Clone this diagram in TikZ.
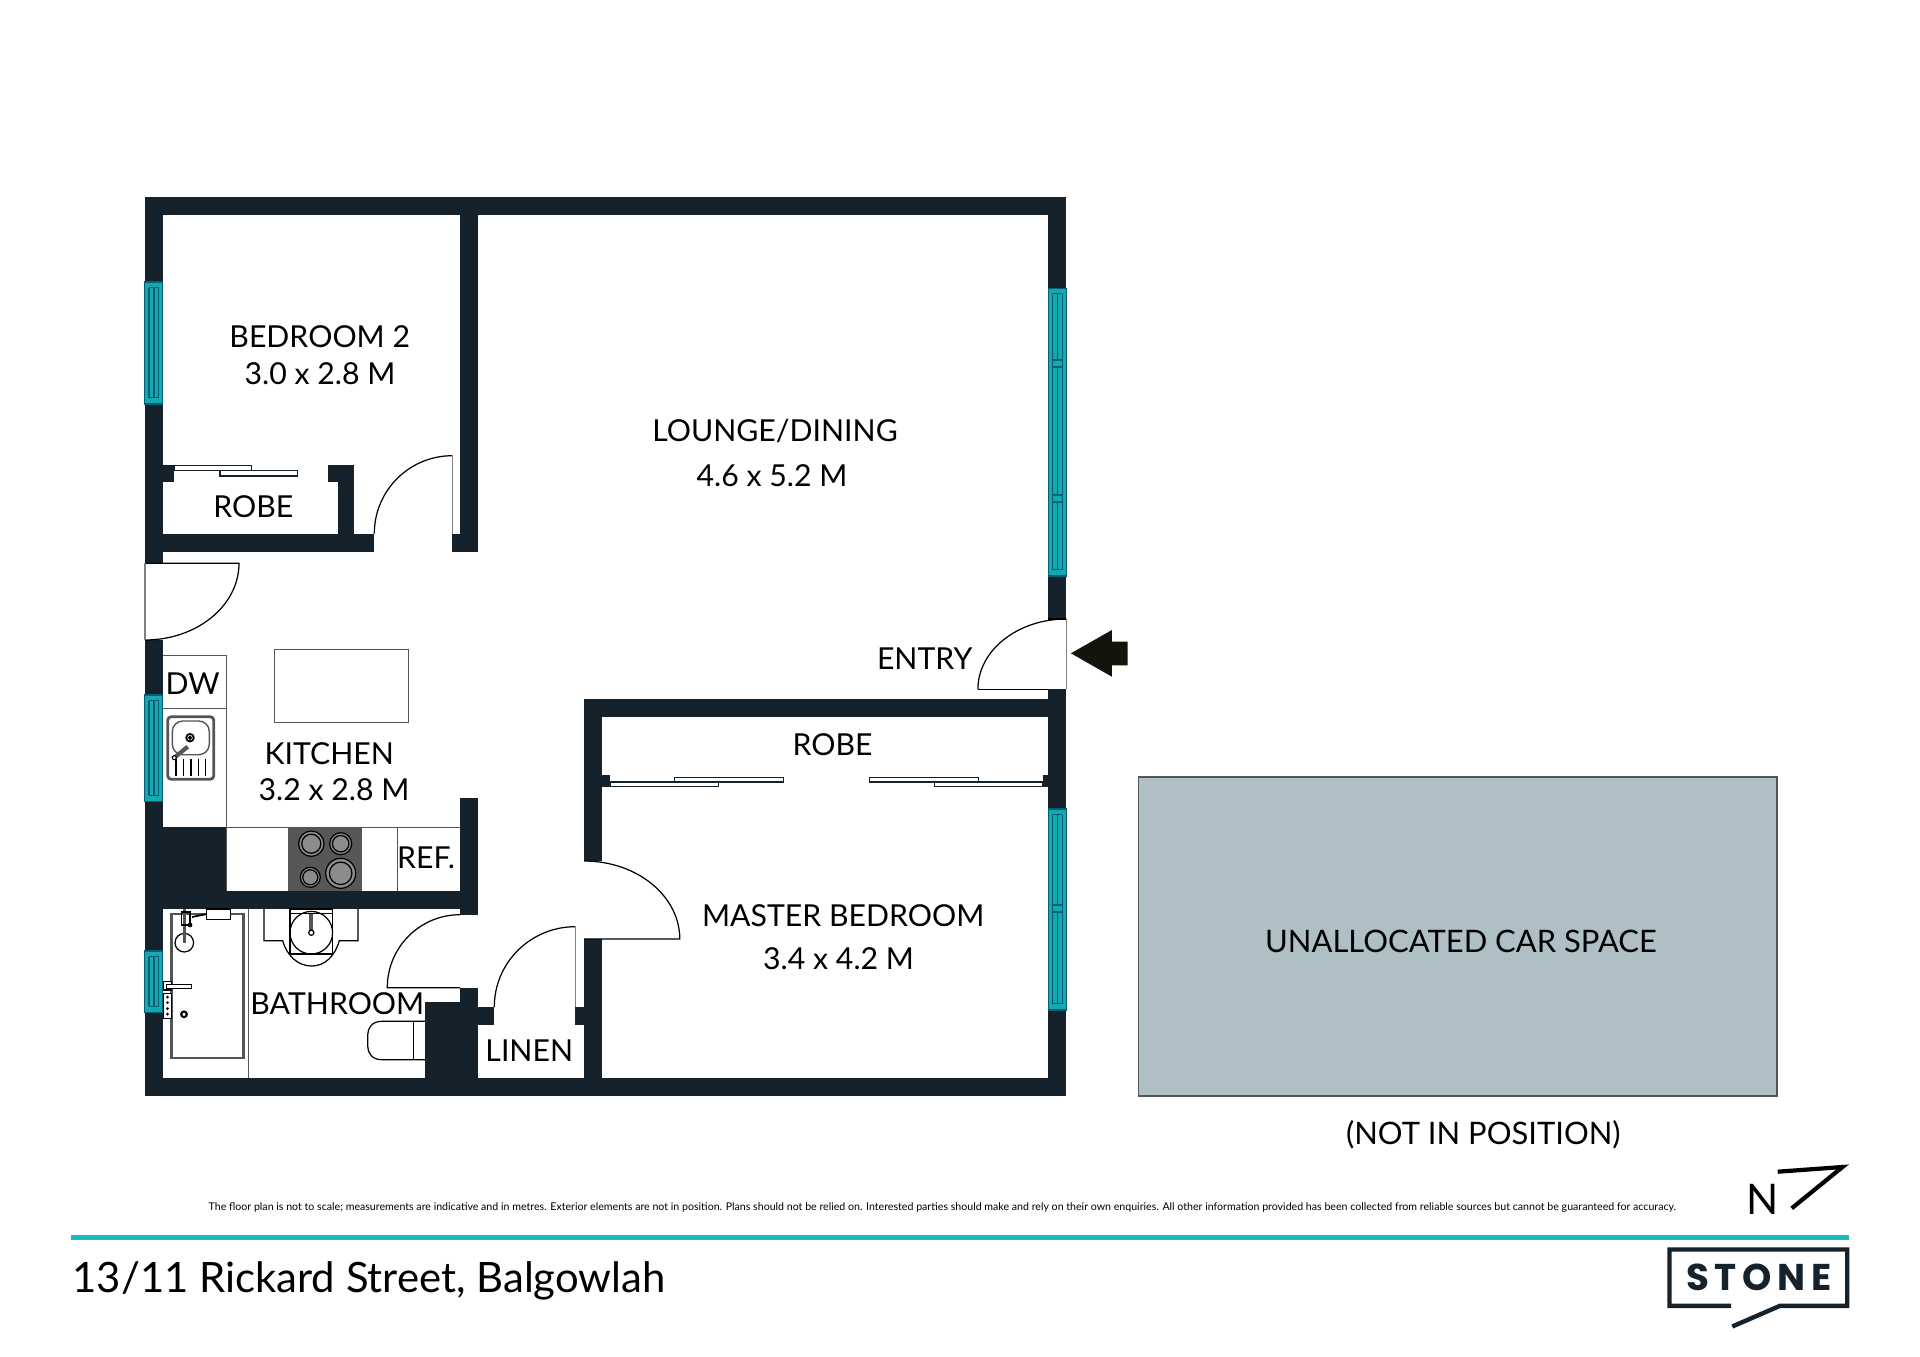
\documentclass[tikz,border=0pt]{standalone}
\usepackage{fontspec}
\setmainfont{Lato}
\newfontfamily\logofont[LetterSpace=15.6]{Poppins}
\definecolor{walldark}{HTML}{15222B}
\definecolor{glassteal}{HTML}{12A9B3}
\definecolor{glassline}{HTML}{0C5D70}
\definecolor{ruleteal}{HTML}{1ABBC0}
\definecolor{carfill}{HTML}{AEBFC6}
\definecolor{fixline}{HTML}{555555}
\definecolor{hobgrey}{HTML}{575757}
\definecolor{ringgrey}{HTML}{8C8C8C}
\definecolor{arrowdark}{HTML}{15140C}
\tikzset{
  wall/.style={fill=walldark},
  fixture/.style={draw=fixline, line width=0.4pt},
  doorline/.style={draw=black, line width=0.35pt},
  doorjamb/.style={draw=gray, line width=0.45pt},
  slider/.style={draw=walldark, fill=white, line width=0.35pt},
  roomlabel/.style={font=\fontsize{8.6}{10}\selectfont, text=black, inner sep=0pt},
  carlabel/.style={font=\fontsize{8.8}{10}\selectfont, text=black, inner sep=0pt},
  ring/.style={draw=black, fill=ringgrey, line width=0.35pt},
}

\begin{document}
\begin{tikzpicture}[x=0.01cm,y=-0.01cm]
  \useasboundingbox (0,0) rectangle (1920,1357);
  \fill[white] (0,0) rectangle (1920,1357);

  % --------------------
  % Walls
  % --------------------
  \foreach \xa/\ya/\xb/\yb in {144.7/197.3/1066.3/215.3, 144.7/197.3/162.7/563.3, 144.7/640/162.7/1096,
    144.7/1078.3/1066.3/1096, 1048.3/197.3/1066.3/619, 1048.3/689.3/1066.3/1096,
    460/197.3/477.7/551.7, 144.7/533.7/374.3/551.7, 452.3/533.7/477.7/551.7,
    338/464.7/354.3/533.7, 328.3/464.7/338/481.7, 162.7/464.7/174.3/481.7,
    460/798/477.7/915, 144.7/891/477.7/909.3, 144.7/827.3/226.3/891,
    460/987.7/477.7/1078.3, 425.3/1001.7/477.7/1078.3,
    477.7/1007/494.3/1025, 575.3/1007/584.3/1025,
    584.1/699/601.7/861, 584.1/938.5/601.7/1096, 584.1/699/1066.3/717.3,
    601.7/775/610/786.7, 1043/775/1048.3/786.7} {
    \fill[wall] (\xa,\ya) rectangle (\xb,\yb);
  }

  % --------------------
  % Windows
  % --------------------
  \foreach \wx/\wa/\wb in {144.7/282/404, 144.7/695/801.7, 144.7/951/1012.7, 1048.3/288.3/576, 1048.3/809/1010} {
    \fill[glassteal] (\wx,\wa) rectangle +(18,\wb-\wa);
    \draw[glassline, line width=0.35pt] (\wx,\wa) rectangle +(18,\wb-\wa);
    \draw[glassline, line width=0.35pt] (\wx+4.4,\wa+5.5) -- (\wx+4.4,\wb-6.5);
    \draw[glassline, line width=0.35pt] (\wx+9.2,\wa+5.5) -- (\wx+9.2,\wb-6.5);
    \draw[glassline, line width=0.35pt] (\wx+14,\wa+5.5) -- (\wx+14,\wb-6.5);
    \draw[glassline, line width=0.35pt] (\wx+4.4,\wa+5.5) -- (\wx+14,\wa+5.5);
    \draw[glassline, line width=0.35pt] (\wx+4.4,\wb-6.5) -- (\wx+14,\wb-6.5);
  }
  % window mullions
  \foreach \wx/\wy in {1048.3/360, 1048.3/495, 1048.3/905} {
    \fill[glassteal] (\wx+4.4,\wy) rectangle +(9.6,7);
    \draw[glassline, line width=0.35pt] (\wx+4.4,\wy) rectangle +(9.6,7);
  }

  % --------------------
  % Doors
  % --------------------
  % Bedroom 2
  \draw[doorline] (374.3,533.7) arc (180:270:78);
  \draw[doorjamb] (452.3,455.7) -- (452.3,533.7);
  % Side door
  \draw[doorline] (145,563.3) -- (239,563.3) arc (0:90:94 and 76.7);
  \draw[doorjamb] (145,563.3) -- (145,640);
  % Entry
  \draw[doorline] (1048.3,619) -- (1066.3,619);
  \draw[doorline] (977.9,689.3) -- (1048.3,689.3);
  \draw[doorline] (977.9,689.3) arc (180:270:88.4 and 70.3);
  \draw[doorjamb] (1066.3,619) -- (1066.3,689.3);
  % Master bedroom
  \draw[doorline] (584.1,939) -- (679.8,939) arc (0:-90:95.7 and 78);
  % Bathroom
  \draw[doorline] (460,987.7) -- (387.3,987.7) arc (180:270:72.7 and 73);
  % Linen
  \draw[doorline] (494.3,1007) arc (180:270:81 and 80.3);
  \draw[doorjamb] (575.3,926.7) -- (575.3,1007);

  % --------------------
  % Sliding robe doors
  % --------------------
  \draw[slider] (174.3,465.3) rectangle (251.7,470.7);
  \draw[slider] (220,470.7) rectangle (297.7,476);
  \draw[slider] (610,782) rectangle (718.4,786.3);
  \draw[slider] (674.8,777.7) rectangle (783.5,782);
  \draw[slider] (869.6,777.7) rectangle (978.3,782);
  \draw[slider] (934.7,782) rectangle (1043,786.3);

  % --------------------
  % Kitchen
  % --------------------
  \draw[fixture] (162.7,655.3) -- (226.3,655.3) -- (226.3,891);
  \draw[fixture] (162.7,708.3) -- (226.3,708.3);
  \draw[fixture] (226.3,827.3) -- (460,827.3);
  \draw[fixture] (397.3,827.3) -- (397.3,891);
  \draw[fixture] (274.3,649.7) rectangle (408.7,722.3);

  % Hob
  \fill[hobgrey] (288,827.8) rectangle (362.3,891);
  \foreach \bx/\by/\br in {311.3/843.7/12.7, 340.7/843.7/11, 310.3/877.3/10, 340.7/873.3/15} {
    \draw[ring] (\bx,\by) circle (\br);
    \draw[ring] (\bx,\by) circle (\br*0.75);
  }

  % Sink
  \draw[fixline, fill=white, line width=0.8pt, rounded corners=1pt] (167.7,716.7) rectangle (213.7,779.3);
  \draw[fixture, rounded corners=3pt] (172.3,721) rectangle (209.3,754.7);
  \draw[black, line width=0.5pt] (190,737.7) circle (3.8);
  \draw[black, line width=0.5pt] (190,737.7) circle (1.2);
  \draw[fixline, line width=1.2pt] (174.3,757.7) -- (187.7,746.7);
  \draw[fill=white, line width=0.3pt] (174.3,757.7) circle (2);
  \foreach \gx in {176,183.7,191,198.3,205.3} {
    \draw[black, line width=0.35pt] (\gx,758.5) -- (\gx,776);
  }

  % --------------------
  % Bathroom
  % --------------------
  \draw[fixture] (248.7,909) -- (248.7,1078.3);
  \draw[fixline, line width=0.7pt] (171.7,914) rectangle (243.3,1058);

  % Shower and controls
  \draw[doorline] (184.3,942.7) circle (9.3);
  \draw[fixline, line width=0.8pt] (184.3,909) -- (184.3,942.7);
  \draw[doorline] (181.5,912) rectangle (190,925);
  \fill[black] (190,925) circle (2.4);
  \draw[black, line width=0.4pt, fill=white] (206.7,909) rectangle (230.7,919.3);
  \draw[black, line width=0.5pt] (192,917) -- (206.7,914);
  \draw[doorline, fill=white] (163.3,981.7) rectangle (171.7,990);
  \draw[doorline, fill=white] (166.7,984.3) rectangle (191.7,988.3);
  \draw[black, line width=0.4pt, fill=white] (163.3,993.3) rectangle (171.7,1018.3);
  \foreach \dy in {997,1002.5,1008.5,1014} {
    \fill[black] (167.5,\dy) circle (1.5);
  }
  \draw[black, line width=0.6pt] (184,1014.3) circle (2.8);

  % Vanity and basin
  \draw[doorline] (264,909) -- (264,940.7) -- (282.7,940.7)
    .. controls (287,956) and (298,966) .. (311.7,966)
    .. controls (325,966) and (335,956) .. (339.3,940.7) -- (358,940.7) -- (358,909);
  \draw[doorline, line width=0.45pt, fill=white] (290,909) rectangle (332.7,954);
  \draw[doorline] (290,913.3) -- (332.7,913.3);
  \draw[doorline] (311.3,932.7) circle (21.3);
  \draw[fixline, line width=1.2pt] (311.3,914) -- (311.3,931);
  \draw[doorline, fill=white] (311.3,932.7) circle (2.6);

  % Toilet
  \draw[doorline] (425.3,1021.3) -- (381.7,1021.3)
    .. controls (372,1021.3) and (367.7,1028) .. (367.7,1035)
    -- (367.7,1046) .. controls (367.7,1053) and (372,1059.7) .. (381.7,1059.7) -- (425.3,1059.7);
  \draw[doorline] (413.7,1021.3) -- (413.7,1059.7);

  % --------------------
  % Entry arrow
  % --------------------
  \fill[arrowdark] (1070.9,653.3) -- (1111.9,630) -- (1111.9,641.7) -- (1127.5,641.7)
    -- (1127.5,665.3) -- (1111.9,665.3) -- (1111.9,676.7) -- cycle;

  % --------------------
  % Car space
  % --------------------
  \draw[fill=carfill, draw=fixline, line width=0.4pt] (1138.3,777) rectangle (1777,1096);

  % --------------------
  % Room names
  % --------------------
  \node[roomlabel] (bedtwoname) at (319.7,336.7) {BEDROOM 2};
  \node[roomlabel] (bedtwosize) at (320,373.3) {3.0 x 2.8 M};
  \node[roomlabel] (bedtworobe) at (253.3,507) {ROBE};
  \node[roomlabel] (loungename) at (775,431) {LOUNGE/DINING};
  \node[roomlabel] (loungesize) at (772,476) {4.6 x 5.2 M};
  \node[roomlabel] (entryname) at (924.7,659) {ENTRY};
  \node[roomlabel] (dwname) at (192.7,683.8) {DW};
  \node[roomlabel] (kitchenname) at (329.3,753.3) {KITCHEN};
  \node[roomlabel] (kitchensize) at (334,789.3) {3.2 x 2.8 M};
  \node[roomlabel] (refname) at (426,857.7) {REF.};
  \node[roomlabel] (bathname) at (337.3,1003.7) {BATHROOM};
  \node[roomlabel] (linenname) at (529.3,1050.5) {LINEN};
  \node[roomlabel] (masterrobe) at (832.5,744.5) {ROBE};
  \node[roomlabel] (mastername) at (843.2,916) {MASTER BEDROOM};
  \node[roomlabel] (mastersize) at (838.6,958.3) {3.4 x 4.2 M};
  \node[carlabel] (carname) at (1461,941.3) {UNALLOCATED CAR SPACE};
  \node[carlabel] (carnote) at (1483.3,1135) {(NOT IN POSITION)};

  % --------------------
  % Footer
  % --------------------
  \node[anchor=base west, inner sep=0pt, font=\fontsize{3.02}{3.5}\selectfont] (disclaimer) at (208,1210)
    {The floor plan is not to scale; measurements are indicative and in metres. Exterior elements are not in position. Plans should not be relied on. Interested parties should make and rely on their own enquiries. All other information provided has been collected from reliable sources but cannot be guaranteed for accuracy.};
  \fill[ruleteal] (71.2,1235) rectangle (1849.3,1239.5);
  \node[anchor=base west, inner sep=0pt, font=\fontsize{11.9}{13}\selectfont] (address) at (72,1292.7) {13/11 Rickard Street, Balgowlah};

  % North mark
  \node[anchor=base west, inner sep=0pt, font=\fontsize{12}{14}\selectfont] (northname) at (1745.5,1214) {N};
  \draw[black, line width=1.2pt, miter limit=10] (1777.7,1171.7) -- (1842.5,1167) -- (1791.7,1208.3);

  % Logo
  \draw[walldark, line width=1.25pt] (1731,1305.8) -- (1669.5,1305.8) -- (1669.5,1249.5) -- (1847.2,1249.5)
    -- (1847.2,1305.8) -- (1780,1305.8) -- (1732.3,1326.5);
  \node[anchor=center, inner sep=0pt, text=walldark, font=\logofont\bfseries\fontsize{10.6}{12}\selectfont] (logoname) at (1759,1277.5) {STONE};
\end{tikzpicture}
\end{document}
